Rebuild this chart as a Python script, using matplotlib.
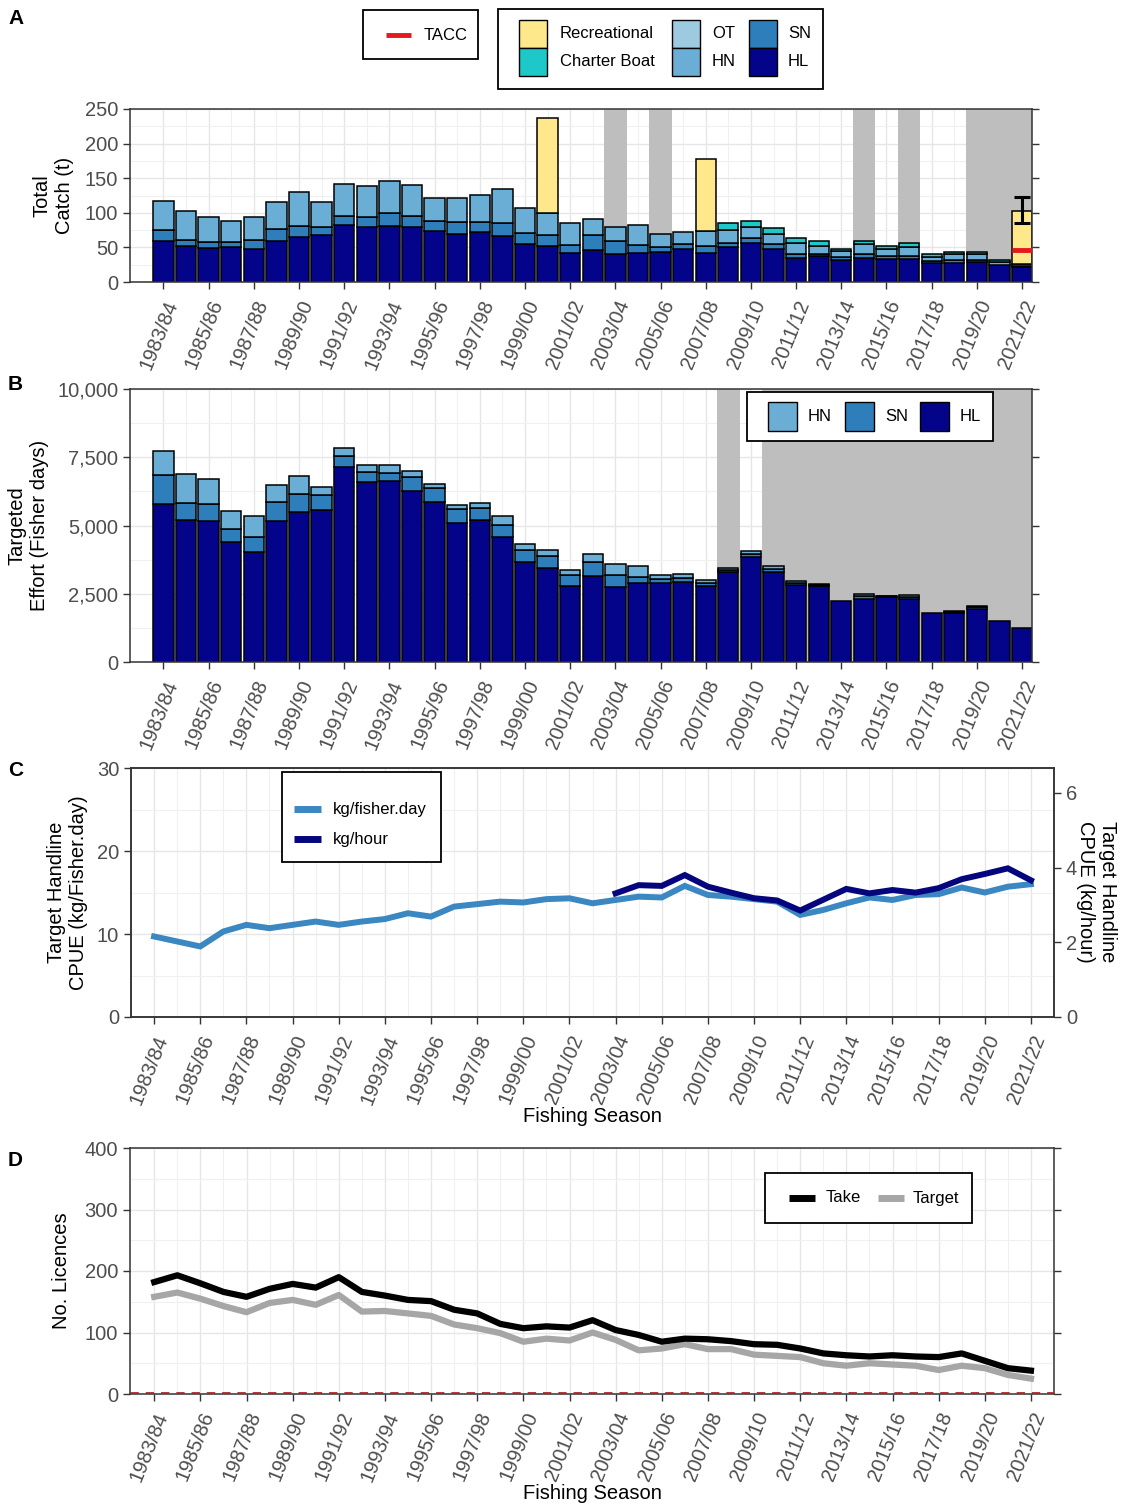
import numpy as np
import matplotlib
matplotlib.use("Agg")
import matplotlib.pyplot as plt
from matplotlib.patches import Rectangle
from matplotlib.lines import Line2D
from matplotlib.ticker import FuncFormatter

plt.rcParams['font.family'] = ['Liberation Sans', 'DejaVu Sans']

seasons = ["1983/84", "1984/85", "1985/86", "1986/87", "1987/88", "1988/89", "1989/90",
           "1990/91", "1991/92", "1992/93", "1993/94", "1994/95", "1995/96", "1996/97",
           "1997/98", "1998/99", "1999/00", "2000/01", "2001/02", "2002/03", "2003/04",
           "2004/05", "2005/06", "2006/07", "2007/08", "2008/09", "2009/10", "2010/11",
           "2011/12", "2012/13", "2013/14", "2014/15", "2015/16", "2016/17", "2017/18",
           "2018/19", "2019/20", "2020/21", "2021/22"]

# ---- Panel A: total catch (t) by sector ----
catch_hl = [59.2, 51.5, 49.0, 50.0, 47.7, 58.8, 65.0, 68.4, 82.9, 79.0, 80.4, 80.0, 73.2,
            68.9, 72.3, 66.5, 54.4, 52.5, 41.4, 46.2, 40.5, 42.4, 42.9, 48.2, 42.4, 50.1,
            56.8, 48.2, 34.7, 37.1, 31.3, 34.7, 33.7, 33.7, 27.0, 27.5, 28.4, 24.1, 21.5]
catch_sn = [16.4, 9.7, 9.3, 8.3, 12.5, 17.8, 15.4, 10.6, 12.0, 14.9, 18.8, 15.9, 15.4,
            18.3, 14.9, 18.3, 16.9, 15.9, 11.6, 21.2, 18.7, 10.6, 7.7, 6.2, 9.6, 6.3,
            7.3, 7.2, 6.2, 3.8, 4.8, 5.3, 3.9, 4.3, 2.9, 3.8, 2.9, 0.0, 2.0]
catch_hn = [41.0, 41.8, 35.7, 29.7, 33.8, 38.4, 49.2, 37.0, 47.1, 44.8, 46.3, 44.1, 33.3,
            34.2, 38.5, 49.6, 35.7, 31.3, 32.7, 23.2, 20.8, 29.9, 18.8, 18.3, 21.7, 18.3,
            15.4, 14.0, 15.9, 11.6, 8.2, 14.4, 10.1, 12.6, 6.2, 8.7, 8.7, 4.3, 2.5]
catch_ot = [0.0] * 39
catch_cb = [0, 0, 0, 0, 0, 0, 0, 0, 0, 0, 0, 0, 0, 0, 0, 0, 0, 0, 0, 0, 0, 0, 0, 0, 0,
            10.1, 9.1, 8.2, 7.2, 6.3, 3.9, 4.4, 4.3, 5.8, 4.8, 3.4, 3.4, 3.4, 0]
catch_rec = [0, 0, 0, 0, 0, 0, 0, 0, 0, 0, 0, 0, 0, 0, 0, 0, 0, 137.8, 0, 0, 0, 0, 0, 0,
             104.0, 0, 0, 0, 0, 0, 0, 0, 0, 0, 0, 0, 0, 0, 76.0]
closed_a = ["2003/04", "2005/06", "2014/15", "2016/17", "2019/20", "2020/21", "2021/22"]
rec_err_season = "2021/22"
rec_err_low, rec_err_high = 85.0, 122.5
tacc_season = "2021/22"
tacc_value = 46.0

# ---- Panel B: targeted effort (fisher days) ----
eff_hl = [5780, 5206, 5169, 4411, 4033, 5169, 5511, 5572, 7136, 6611, 6636, 6257, 5853,
          5108, 5194, 4595, 3678, 3434, 2786, 3165, 2737, 2884, 2884, 2933, 2786, 3287,
          3861, 3311, 2835, 2786, 2224, 2310, 2395, 2322, 1784, 1784, 1955, 1515, 1234]
eff_sn = [1063, 611, 611, 465, 562, 709, 636, 538, 416, 367, 305, 513, 514, 513, 439, 427,
          428, 464, 416, 513, 452, 244, 171, 146, 110, 100, 80, 100, 61, 40, 0, 100, 20, 60,
          0, 50, 50, 0, 0]
eff_hn = [892, 1075, 941, 660, 770, 599, 684, 306, 305, 220, 257, 232, 171, 122, 196, 330,
          220, 196, 158, 281, 391, 391, 147, 159, 110, 71, 140, 108, 61, 46, 0, 71, 17, 62,
          0, 48, 48, 0, 0]
closed_b = ["2008/09", "2010/11", "2011/12", "2012/13", "2013/14", "2014/15", "2015/16",
            "2016/17", "2017/18", "2018/19", "2019/20", "2020/21", "2021/22"]

# ---- Panel C: handline CPUE ----
cpue_day = [9.7, 9.1, 8.5, 10.3, 11.1, 10.7, 11.1, 11.5, 11.1, 11.5, 11.8, 12.5, 12.1,
            13.3, 13.6, 13.9, 13.8, 14.2, 14.3, 13.7, 14.1, 14.5, 14.4, 15.8, 14.7, 14.5,
            14.2, 13.9, 12.3, 12.9, 13.7, 14.4, 14.1, 14.7, 14.8, 15.6, 15.0, 15.7, 16.0]
cpue_hour_seasons = seasons[20:]
cpue_hour = [3.31, 3.53, 3.51, 3.80, 3.49, 3.33, 3.18, 3.12, 2.85, 3.14, 3.43, 3.31, 3.40,
             3.33, 3.45, 3.69, 3.83, 3.98, 3.66]

# ---- Panel D: licences ----
lic_take = [182, 193, 180, 166, 158, 171, 179, 173, 190, 166, 160, 153, 151, 137, 131, 114,
            107, 110, 108, 120, 104, 96, 85, 90, 89, 86, 81, 80, 74, 66, 63, 61, 63, 61, 60,
            66, 54, 42, 38]
lic_target = [158, 165, 155, 143, 133, 148, 153, 145, 161, 134, 135, 131, 127, 113, 107, 99,
              85, 90, 87, 100, 88, 71, 74, 81, 73, 73, 64, 62, 60, 50, 46, 50, 48, 46, 39,
              46, 42, 31, 25]
lic_ref = 2

# ---- colours ----
C_HL, C_SN, C_HN, C_OT = "#04048a", "#2f7ebc", "#6aaed6", "#9ecae1"
C_CB, C_REC = "#1fc8c8", "#ffe88c"
C_GREY = "#bebebe"
TICK_C = "#4d4d4d"

W, H = 1121, 1510
fig = plt.figure(figsize=(W / 100, H / 100), dpi=100)


def add_ax(l, r, t, b):
    return fig.add_axes([l / W, 1 - b / H, (r - l) / W, (b - t) / H])


def fx(px):
    return px / W


def fy(py):
    return 1 - py / H


x = np.arange(len(seasons))
idx = {s: i for i, s in enumerate(seasons)}
major_x = x[::2]
minor_x = x[1::2]


def style(ax, right_ticks=True, fs=14.5):
    ax.set_xticks(major_x)
    ax.set_xticks(minor_x, minor=True)
    ax.set_xticklabels([seasons[i] for i in major_x], rotation=68, ha='right', va='top',
                       rotation_mode='anchor', fontsize=fs, color=TICK_C)
    ax.tick_params(axis='x', which='minor', length=0)
    ax.tick_params(axis='both', which='major', length=5, width=1, color='#333333',
                   labelsize=fs, labelcolor=TICK_C)
    ax.tick_params(axis='x', pad=6)
    ax.tick_params(axis='y', which='minor', length=0)
    if right_ticks:
        ax.tick_params(axis='y', which='major', right=True)
    ax.grid(True, which='major', color='#e6e6e6', lw=1.0, zorder=0)
    ax.grid(True, which='minor', color='#f0f0f0', lw=0.8, zorder=0)
    ax.set_axisbelow(True)
    for sp in ax.spines.values():
        sp.set_color('#333333')
        sp.set_linewidth(1.1)


# ================= Panel A =================
axA = add_ax(130, 1032, 109, 282)
axA.set_xlim(-1.48, 38.44)
axA.set_ylim(0, 250)
for s in closed_a:
    axA.axvspan(idx[s] - 0.5, idx[s] + 0.5, color=C_GREY, lw=0, zorder=1)
bottom = np.zeros(len(x))
for vals, col in [(catch_hl, C_HL), (catch_sn, C_SN), (catch_hn, C_HN), (catch_ot, C_OT),
                  (catch_cb, C_CB), (catch_rec, C_REC)]:
    v = np.array(vals, dtype=float)
    m = v > 0
    axA.bar(x[m], v[m], 0.9, bottom=bottom[m], color=col, edgecolor='black', lw=1.1,
            zorder=2)
    bottom += v
ie = idx[rec_err_season]
axA.errorbar([ie], [(rec_err_low + rec_err_high) / 2],
             yerr=[[(rec_err_high - rec_err_low) / 2], [(rec_err_high - rec_err_low) / 2]],
             fmt='none', ecolor='black', elinewidth=2.2, capsize=6, capthick=2.2, zorder=4)
it = idx[tacc_season]
axA.plot([it - 0.45, it + 0.45], [tacc_value, tacc_value], color='#e4191c', lw=3.5,
         zorder=5, solid_capstyle='butt')
axA.set_yticks([0, 50, 100, 150, 200, 250])
axA.set_yticks([25, 75, 125, 175, 225], minor=True)
style(axA)
axA.set_ylabel("Total\nCatch (t)", fontsize=14.5, labelpad=8)

# ================= Panel B =================
axB = add_ax(130, 1032, 389, 662)
axB.set_xlim(-1.48, 38.44)
axB.set_ylim(0, 10000)
for s in closed_b:
    axB.axvspan(idx[s] - 0.5, idx[s] + 0.5, color=C_GREY, lw=0, zorder=1)
bottom = np.zeros(len(x))
for vals, col in [(eff_hl, C_HL), (eff_sn, C_SN), (eff_hn, C_HN)]:
    v = np.array(vals, dtype=float)
    m = v > 0
    axB.bar(x[m], v[m], 0.9, bottom=bottom[m], color=col, edgecolor='black', lw=1.1,
            zorder=2)
    bottom += v
axB.set_yticks([0, 2500, 5000, 7500, 10000])
axB.set_yticks([1250, 3750, 6250, 8750], minor=True)
axB.yaxis.set_major_formatter(FuncFormatter(lambda v, p: f"{int(v):,}"))
style(axB)
axB.set_ylabel("Targeted\nEffort (Fisher days)", fontsize=14.5, labelpad=6)

# ================= Panel C =================
axC = add_ax(131, 1054, 768, 1017)
axC.set_xlim(-1, 39)
axC.set_ylim(0, 30)
axC2 = axC.twinx()
axC2.set_ylim(0, 30 / 4.5)
axC.plot(x, cpue_day, color="#3a87c2", lw=4.3, zorder=3, solid_joinstyle='miter')
axC2.plot([idx[s] for s in cpue_hour_seasons], cpue_hour, color="#05057e", lw=4.3,
          zorder=3, solid_joinstyle='miter')
axC.set_yticks([0, 10, 20, 30])
axC.set_yticks([5, 15, 25], minor=True)
style(axC, right_ticks=False)
axC2.set_yticks([0, 2, 4, 6])
axC2.tick_params(axis='y', length=5, width=1, color='#333333', labelsize=14.5,
                 labelcolor=TICK_C)
for sp in axC2.spines.values():
    sp.set_color('#333333')
    sp.set_linewidth(1.1)
axC.set_ylabel("Target Handline\nCPUE (kg/Fisher.day)", fontsize=14.5, labelpad=6)
# secondary-axis title, rotated to read top-to-bottom beside the right axis
fig.text(fx(1097), fy(892), "Target Handline\nCPUE (kg/hour)", fontsize=14.5,
         rotation=270, ha='center', va='center', multialignment='center')
axC.set_xlabel("Fishing Season", fontsize=14.5, labelpad=0)

# ================= Panel D =================
axD = add_ax(130, 1054, 1148, 1394)
axD.set_xlim(-1.05, 39)
axD.set_ylim(0, 400)
axD.axhline(lic_ref, color='#b22222', lw=2, ls=(0, (3, 2.5)), zorder=3)
axD.plot(x, lic_take, color='black', lw=4.5, zorder=4)
axD.plot(x, lic_target, color='#a6a6a6', lw=4.5, zorder=3)
axD.set_yticks([0, 100, 200, 300, 400])
axD.set_yticks([50, 150, 250, 350], minor=True)
style(axD)
axD.set_ylabel("No. Licences", fontsize=14.5, labelpad=10)
axD.set_xlabel("Fishing Season", fontsize=14.5, labelpad=0)

# ================= panel letters =================
for lab, yy in [("A", 18), ("B", 384), ("C", 770), ("D", 1160)]:
    fig.text(fx(8), fy(yy), lab, fontsize=15, fontweight='bold', va='center', ha='left')


# ================= legends =================
def box(x0, y0, x1, y1):
    fig.add_artist(Rectangle((fx(x0), fy(y1)), (x1 - x0) / W, (y1 - y0) / H,
                             transform=fig.transFigure, facecolor='white',
                             edgecolor='black', lw=1.3, zorder=10))


def swatch(x0, y0, size, col):
    fig.add_artist(Rectangle((fx(x0), fy(y0 + size)), size / W, size / H,
                             transform=fig.transFigure, facecolor=col,
                             edgecolor='black', lw=1.0, zorder=11))


def ltext(x0, yc, s, fs=12):
    fig.text(fx(x0), fy(yc), s, fontsize=fs, va='center', ha='left', zorder=12)


def lline(x0, x1, yc, col, lw):
    fig.add_artist(Line2D([fx(x0), fx(x1)], [fy(yc), fy(yc)], transform=fig.transFigure,
                          color=col, lw=lw, zorder=11, solid_capstyle='butt'))


# Panel A: TACC key and sector key
box(363, 10, 478, 59)
lline(386, 411, 35, '#e4191c', 3.5)
ltext(424, 35, "TACC")
box(498, 9, 823, 89)
entries_a = [(519, 20, C_REC, 560, "Recreational"), (519, 48, C_CB, 560, "Charter Boat"),
             (672, 20, C_OT, 712, "OT"), (672, 48, C_HN, 712, "HN"),
             (749, 20, C_SN, 788, "SN"), (749, 48, C_HL, 788, "HL")]
for sx, sy, col, tx, lab in entries_a:
    swatch(sx, sy, 28, col)
    ltext(tx, sy + 14, lab)

# Panel B key
box(747, 392, 993, 441)
for sx, col, tx, lab in [(768, C_HN, 808, "HN"), (845, C_SN, 885, "SN"),
                         (920, C_HL, 960, "HL")]:
    swatch(sx, 402, 29, col)
    ltext(tx, 416.5, lab)

# Panel C key
box(282, 772, 441, 862)
lline(294, 321, 809, "#3a87c2", 5)
ltext(333, 809, "kg/fisher.day")
lline(294, 321, 839, "#05057e", 5)
ltext(333, 839, "kg/hour")

# Panel D key
box(765, 1173, 972, 1223)
lline(789, 815, 1198, 'black', 5)
ltext(826, 1198, "Take")
lline(878, 904, 1198, '#a6a6a6', 5)
ltext(913, 1198, "Target")

fig.savefig("out.png", dpi=100)
